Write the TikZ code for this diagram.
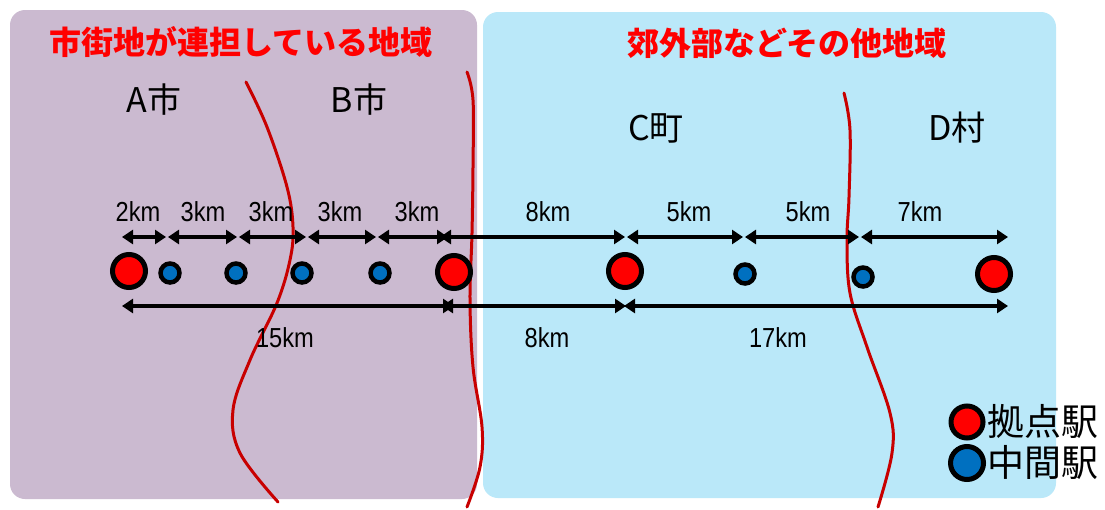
\documentclass[tikz,border=0pt]{standalone}
\usepackage{fontspec}
\usepackage{graphicx}
\setmainfont{Liberation Sans}
\newfontfamily\jp{Noto Sans CJK JP}
\usetikzlibrary{arrows.meta}
\definecolor{panelpurple}{RGB}{203,186,208}
\definecolor{panelblue}{RGB}{186,232,249}
\definecolor{bndred}{RGB}{200,0,0}
\definecolor{stred}{RGB}{255,0,0}
\definecolor{stblue}{RGB}{0,112,192}
\definecolor{titlered}{RGB}{255,0,0}
\newcommand{\kmtext}[1]{\scalebox{0.86}[1]{#1}}
\begin{document}
\begin{tikzpicture}[x=1pt,y=-1pt,
  panel/.style={rounded corners=15pt},
  bound/.style={draw=bndred, line width=3pt, line cap=round},
  major/.style={circle, draw=black, line width=5pt, fill=stred, minimum size=33pt, inner sep=0pt},
  minor/.style={circle, draw=black, line width=4.5pt, fill=stblue, minimum size=19pt, inner sep=0pt},
  legmajor/.style={circle, draw=black, line width=5pt, fill=stred, minimum size=32pt, inner sep=0pt},
  legminor/.style={circle, draw=black, line width=5pt, fill=stblue, minimum size=33pt, inner sep=0pt},
  dimarrow/.style={line width=4.2pt, {Triangle[length=11pt,width=14pt]}-{Triangle[length=11pt,width=14pt]}},
  dimlabel/.style={font=\fontsize{27.5}{30}\selectfont, inner sep=0pt},
  place/.style={font=\jp\fontsize{34}{38}\selectfont, inner sep=0pt},
  title/.style={font=\jp\bfseries\fontsize{32}{36}\selectfont, text=titlered, inner sep=0pt},
  legtext/.style={font=\jp\fontsize{37}{40}\selectfont, anchor=west, inner sep=0pt}
]
\useasboundingbox (0,0) rectangle (1105,509);
\fill[white] (0,0) rectangle (1105,509);
% panels
\fill[panelpurple, panel] (10,10) rectangle (477,499);
\fill[panelblue, panel] (483,12) rectangle (1056,498);

% titles
\node[title] (t1) at (241,42) {市街地が連担している地域};
\node[title] (t2) at (787,43) {郊外部などその他地域};

% place names
\node[place] (pa) at (154,100) {A市};
\node[place] (pb) at (359,100) {B市};
\node[place] (pc) at (656,128) {C町};
\node[place] (pd) at (957,128) {D村};

% boundaries
\draw[bound] plot[smooth, tension=0.6] coordinates {(246,82) (267,127) (287,187) (293,227) (290,260) (277,303) (250,360) (233,410) (240,453) (278,502)};
\draw[bound] plot[smooth, tension=0.6] coordinates {(467,72) (473,100) (473,167) (472,233) (470,300) (473,367) (482,427) (480,467) (467,507)};
\draw[bound] plot[smooth, tension=0.6] coordinates {(844,93) (850,130) (849,197) (847,240) (850,293) (867,347) (890,413) (892,453) (878,507)};

% stations
\node[major] (s1) at (129,271) {};
\node[minor] (s2) at (170,273) {};
\node[minor] (s3) at (236,273) {};
\node[minor] (s4) at (302,273) {};
\node[minor] (s5) at (380,273) {};
\node[major] (s6) at (454,272) {};
\node[major] (s7) at (625,271) {};
\node[minor] (s8) at (745,274) {};
\node[minor] (s9) at (863,277) {};
\node[major] (s10) at (994,274) {};

% dimension end points (upper row)
\coordinate (u0) at (122,237);
\coordinate (u1) at (166,237);
\coordinate (u2) at (168,237);
\coordinate (u3) at (237,237);
\coordinate (u4) at (239,237);
\coordinate (u5) at (306,237);
\coordinate (u6) at (308,237);
\coordinate (u7) at (376,237);
\coordinate (u8) at (378,237);
\coordinate (u9) at (448,237);
\coordinate (u10) at (440,237);
\coordinate (u11) at (625,237);
\coordinate (u12) at (627,237);
\coordinate (u13) at (743,237);
\coordinate (u14) at (745,237);
\coordinate (u15) at (859,237);
\coordinate (u16) at (861,237);
\coordinate (u17) at (1008,237);
% lower row
\coordinate (l0) at (122,306);
\coordinate (l1) at (454,306);
\coordinate (l2) at (442,306);
\coordinate (l3) at (626,306);
\coordinate (l4) at (624,306);
\coordinate (l5) at (1008,306);

\draw[dimarrow] (u0) -- (u1);
\draw[dimarrow] (u2) -- (u3);
\draw[dimarrow] (u4) -- (u5);
\draw[dimarrow] (u6) -- (u7);
\draw[dimarrow] (u8) -- (u9);
\draw[dimarrow] (u10) -- (u11);
\draw[dimarrow] (u12) -- (u13);
\draw[dimarrow] (u14) -- (u15);
\draw[dimarrow] (u16) -- (u17);
\draw[dimarrow] (l0) -- (l1);
\draw[dimarrow] (l2) -- (l3);
\draw[dimarrow] (l4) -- (l5);

% labels
\node[dimlabel] (d1) at (138,212) {\kmtext{2km}};
\node[dimlabel] (d2) at (203,212) {\kmtext{3km}};
\node[dimlabel] (d3) at (271,212) {\kmtext{3km}};
\node[dimlabel] (d4) at (340,212) {\kmtext{3km}};
\node[dimlabel] (d5) at (417,212) {\kmtext{3km}};
\node[dimlabel] (d6) at (548,212) {\kmtext{8km}};
\node[dimlabel] (d7) at (689,212) {\kmtext{5km}};
\node[dimlabel] (d8) at (808,212) {\kmtext{5km}};
\node[dimlabel] (d9) at (920,212) {\kmtext{7km}};
\node[dimlabel] (e1) at (285,338) {\kmtext{15km}};
\node[dimlabel] (e2) at (547,338) {\kmtext{8km}};
\node[dimlabel] (e3) at (778,338) {\kmtext{17km}};

% legend
\node[legmajor] (lg1) at (967,422) {};
\node[legminor] (lg2) at (967,463) {};
\node[legtext] (lt1) at (987,422) {拠点駅};
\node[legtext] (lt2) at (987,463) {中間駅};
\end{tikzpicture}
\end{document}
